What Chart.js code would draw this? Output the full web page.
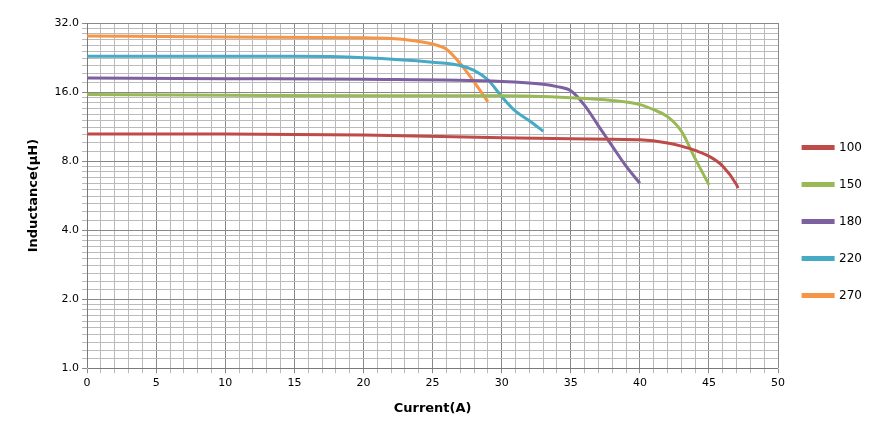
<!DOCTYPE html>
<html><head><meta charset="utf-8">
<script src="https://cdn.jsdelivr.net/npm/chart.js@4"></script>
<style>body{margin:0;background:#fff}#w{width:882px;height:434px}</style>
</head><body><div id="w"><canvas id="c"></canvas></div>
<script>
const current = {
  '100': [0, 10, 20, 30, 35, 40, 42, 43, 44, 45, 46, 47, 47.1],
  '150': [0, 10, 20, 30, 35, 38, 40, 41, 42, 43, 44, 45],
  '180': [0, 10, 20, 30, 33, 34, 35, 36, 37, 38, 39, 40],
  '220': [0, 10, 15, 20, 25, 27, 28, 29, 30, 31, 32, 33],
  '270': [0, 10, 20, 22, 23, 25, 26, 27, 28, 29]
};
const inductance = {
  '100': [10.5, 10.5, 10.4, 10.1, 10.0, 9.9, 9.6, 9.3, 8.9, 8.4, 7.6, 6.3, 6.1],
  '150': [15.6, 15.5, 15.4, 15.4, 15.1, 14.7, 14.1, 13.4, 12.5, 10.8, 8.2, 6.3],
  '180': [18.4, 18.3, 18.2, 17.8, 17.3, 16.9, 16.2, 14.0, 11.4, 9.3, 7.6, 6.4],
  '220': [22.9, 22.9, 22.9, 22.6, 21.6, 20.9, 19.9, 18.1, 15.3, 13.2, 12.0, 10.8],
  '270': [28.1, 27.8, 27.6, 27.4, 27.1, 25.9, 24.6, 21.3, 17.7, 14.5]
};
const colors = {'100':'#be4b48','150':'#98b954','180':'#7d60a0','220':'#46aac5','270':'#f69545'};
const yMajor = [1, 2, 4, 8, 16, 32];

const datasets = Object.keys(current).map(k => ({
  label: k,
  data: current[k].map((x, i) => ({x, y: inductance[k][i]})),
  borderColor: colors[k], backgroundColor: colors[k],
  borderWidth: 3, pointRadius: 0, cubicInterpolationMode: 'monotone', fill: false
}));

function yTicks() {
  const t = [];
  for (let i = 0; i < yMajor.length - 1; i++) {
    const b = yMajor[i];
    for (let j = 0; j < 10; j++) t.push({value: b + b * j / 10});
  }
  t.push({value: 32});
  return t;
}

new Chart(document.getElementById('c'), {
  type: 'line',
  data: {datasets},
  options: {
    responsive: true, maintainAspectRatio: false, animation: false,
    layout: {padding: {top: 23, right: 10, left: 22, bottom: 14}},
    plugins: {
      legend: {position: 'right', labels: {boxWidth: 30, boxHeight: 2, padding: 25, color: '#000',
        font: {family: 'DejaVu Sans', size: 12}}},
      tooltip: {enabled: false}
    },
    scales: {
      x: {type: 'linear', min: 0, max: 50,
        afterBuildTicks: s => { s.ticks = []; for (let v = 0; v <= 50; v++) s.ticks.push({value: v}); },
        ticks: {autoSkip: false, maxRotation: 0, color: '#000', font: {family: 'DejaVu Sans', size: 11},
          callback: v => v % 5 === 0 ? String(v) : ''},
        grid: {color: c => c.tick && c.tick.value % 5 === 0 ? '#888' : '#bbb', tickLength: 5},
        title: {display: true, text: 'Current(A)', color: '#000', padding: {top: 8}, font: {family: 'DejaVu Sans', size: 13, weight: 'bold'}}
      },
      y: {type: 'logarithmic', min: 1, max: 32,
        afterBuildTicks: s => { s.ticks = yTicks(); },
        ticks: {autoSkip: false, color: '#000', font: {family: 'DejaVu Sans', size: 11},
          callback: v => yMajor.includes(v) ? v.toFixed(1) : ''},
        grid: {color: c => c.tick && yMajor.includes(c.tick.value) ? '#888' : '#bbb', tickLength: 5},
        title: {display: true, text: 'Inductance(µH)', color: '#000', padding: {bottom: 10}, font: {family: 'DejaVu Sans', size: 13, weight: 'bold'}}
      }
    }
  }
});
</script></body></html>
